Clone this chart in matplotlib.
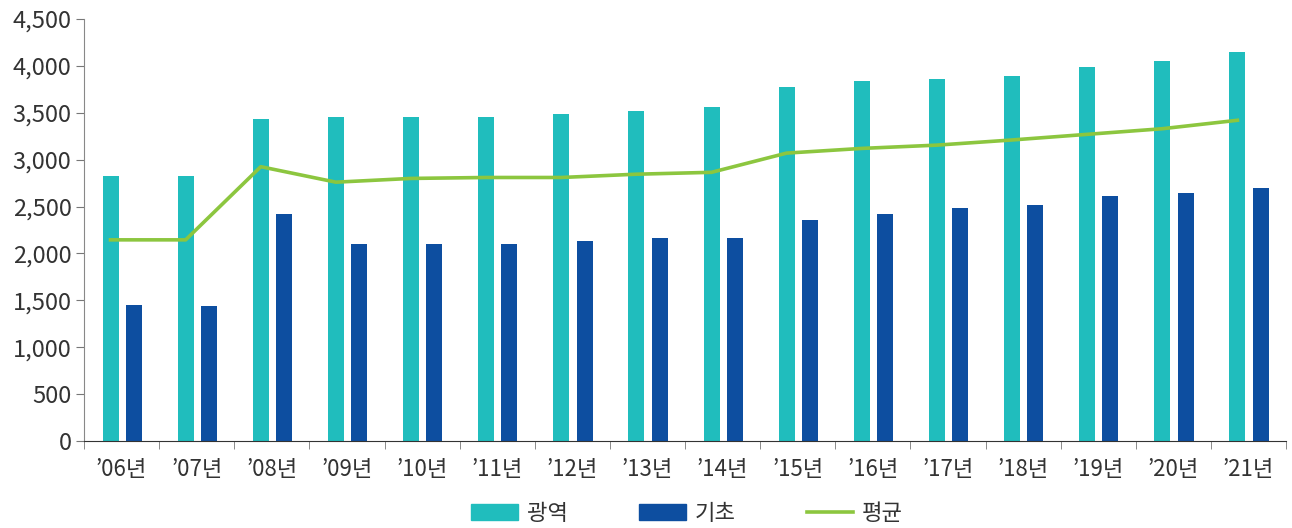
import matplotlib.pyplot as plt
import numpy as np
from matplotlib.patches import Patch
from matplotlib.lines import Line2D

plt.rcParams['font.family'] = ['Noto Sans CJK KR', 'DejaVu Sans']
plt.rcParams['font.weight'] = 'light'

years = ['\u201906년', '\u201907년', '\u201908년', '\u201909년', '\u201910년', '\u201911년',
         '\u201912년', '\u201913년', '\u201914년', '\u201915년', '\u201916년', '\u201917년',
         '\u201918년', '\u201919년', '\u201920년', '\u201921년']
gwangyeok = [2830, 2830, 3430, 3455, 3455, 3455, 3490, 3520, 3560, 3775, 3840, 3860,
             3890, 3990, 4050, 4150]
gicho = [1450, 1440, 2420, 2100, 2100, 2100, 2135, 2165, 2165, 2360, 2420, 2485,
         2520, 2615, 2645, 2700]
avg = [2145, 2145, 2925, 2760, 2800, 2810, 2810, 2845, 2865, 3070, 3120, 3155,
       3210, 3270, 3330, 3420]

c_teal = '#20BDBD'
c_navy = '#0D4EA0'
c_green = '#8CC63F'

fig = plt.figure(figsize=(12.92, 5.28), dpi=100)
ax = fig.add_axes([84 / 1292, 87 / 528, 1202 / 1292, 422 / 528])

x = np.arange(len(years))
w = 0.213
ax.bar(x - 0.147, gwangyeok, w, color=c_teal)
ax.bar(x + 0.163, gicho, w, color=c_navy)
ax.plot(x - 0.147, avg, color=c_green, lw=2.6)

ax.set_xlim(-0.5, len(years) - 0.5)
ax.set_ylim(0, 4500)
ax.set_yticks(np.arange(0, 4501, 500))
ax.set_yticklabels([f'{v:,}' for v in range(0, 4501, 500)])
ax.set_xticks(x)
ax.set_xticklabels(years)
ax.set_xticks(np.arange(-0.5, len(years), 1), minor=True)
ax.tick_params(axis='x', which='major', length=0, pad=12, labelsize=16, colors='#333333')
ax.tick_params(axis='x', which='minor', length=6, color='#777777')
ax.tick_params(axis='y', length=6, labelsize=17, pad=3)
ax.tick_params(axis='y', colors='#777777', labelcolor='#333333')

for s in ['top', 'right']:
    ax.spines[s].set_visible(False)
ax.spines['left'].set_color('#888888')
ax.spines['bottom'].set_color('#333333')

handles = [Patch(color=c_teal), Patch(color=c_navy), Line2D([0], [0], color=c_green, lw=2.6)]
fig.legend(handles, ['광역', '기초', '평균'], loc='center', ncol=3, frameon=False,
           bbox_to_anchor=(0.532, 0.028), fontsize=16, handlelength=2.1, handleheight=0.75,
           columnspacing=3.2, handletextpad=0.4, labelcolor='#333333')

fig.savefig('out.png', dpi=100)
